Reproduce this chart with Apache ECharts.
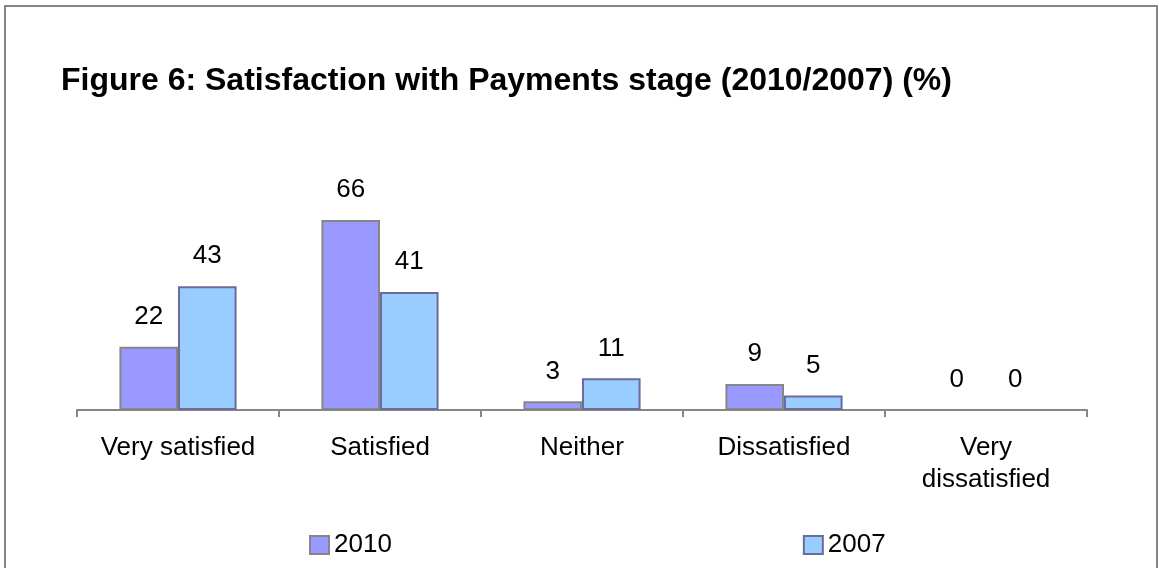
<!DOCTYPE html>
<html>
<head>
<meta charset="utf-8">
<script src="https://cdn.jsdelivr.net/npm/echarts@6/dist/echarts.min.js"></script>
<style>
html,body{margin:0;padding:0;background:#fff;}
#c{width:1159px;height:568px;}
</style>
</head>
<body>
<div id="c"></div>
<script>
const titleText = 'Figure 6: Satisfaction with Payments stage (2010/2007) (%)';
const categories = ['Very satisfied', 'Satisfied', 'Neither', 'Dissatisfied', 'Very\ndissatisfied'];
const seriesNames = ['2010', '2007'];
const values2010 = [22, 66, 3, 9, 0];
const values2007 = [43, 41, 11, 5, 0];

const FONT = "'Liberation Sans', Arial, sans-serif";
// zero-height bars draw no outline in the original
const toData = arr => arr.map(v => v === 0 ? {value: v, itemStyle: {borderWidth: 0}} : v);

const labelStyle = {show: true, position: 'top', distance: 17, fontFamily: FONT, fontSize: 26, color: '#000', lineHeight: 26};

const chart = echarts.init(document.getElementById('c'), null, {renderer: 'canvas'});
chart.setOption({
  animation: false,
  backgroundColor: '#ffffff',
  graphic: [{
    type: 'rect',
    shape: {x: 5, y: 6, width: 1152, height: 620},
    style: {fill: 'none', stroke: '#868686', lineWidth: 2},
    silent: true,
    z: 100
  }],
  title: {
    text: titleText,
    left: 56,
    top: 60,
    textStyle: {fontFamily: FONT, fontWeight: 'bold', fontSize: 32, color: '#000', lineHeight: 32}
  },
  legend: {
    data: seriesNames,
    left: 304,
    top: 527,
    itemGap: 411,
    itemWidth: 19,
    itemHeight: 18,
    icon: 'rect',
    textStyle: {fontFamily: FONT, fontSize: 26, color: '#000', lineHeight: 26}
  },
  grid: {left: 77, right: 72, top: 208.5, bottom: 158, containLabel: false},
  xAxis: {
    type: 'category',
    data: categories,
    axisLine: {show: true, lineStyle: {color: '#868686', width: 2}},
    axisTick: {show: true, length: 7, lineStyle: {color: '#868686', width: 2}},
    axisLabel: {fontFamily: FONT, fontSize: 26, color: '#000', lineHeight: 32, margin: 22, interval: 0}
  },
  yAxis: {
    type: 'value',
    min: 0,
    max: 70,
    show: false,
    splitLine: {show: false}
  },
  series: [
    {
      name: seriesNames[0],
      type: 'bar',
      data: toData(values2010),
      barGap: '0%',
      barCategoryGap: '42%',
      itemStyle: {color: '#9999FF', borderColor: '#868686', borderWidth: 2},
      label: labelStyle
    },
    {
      name: seriesNames[1],
      type: 'bar',
      data: toData(values2007),
      barGap: '0%',
      barCategoryGap: '42%',
      itemStyle: {color: '#99CCFF', borderColor: '#6B6B9E', borderWidth: 2},
      label: labelStyle
    }
  ]
});
</script>
</body>
</html>
